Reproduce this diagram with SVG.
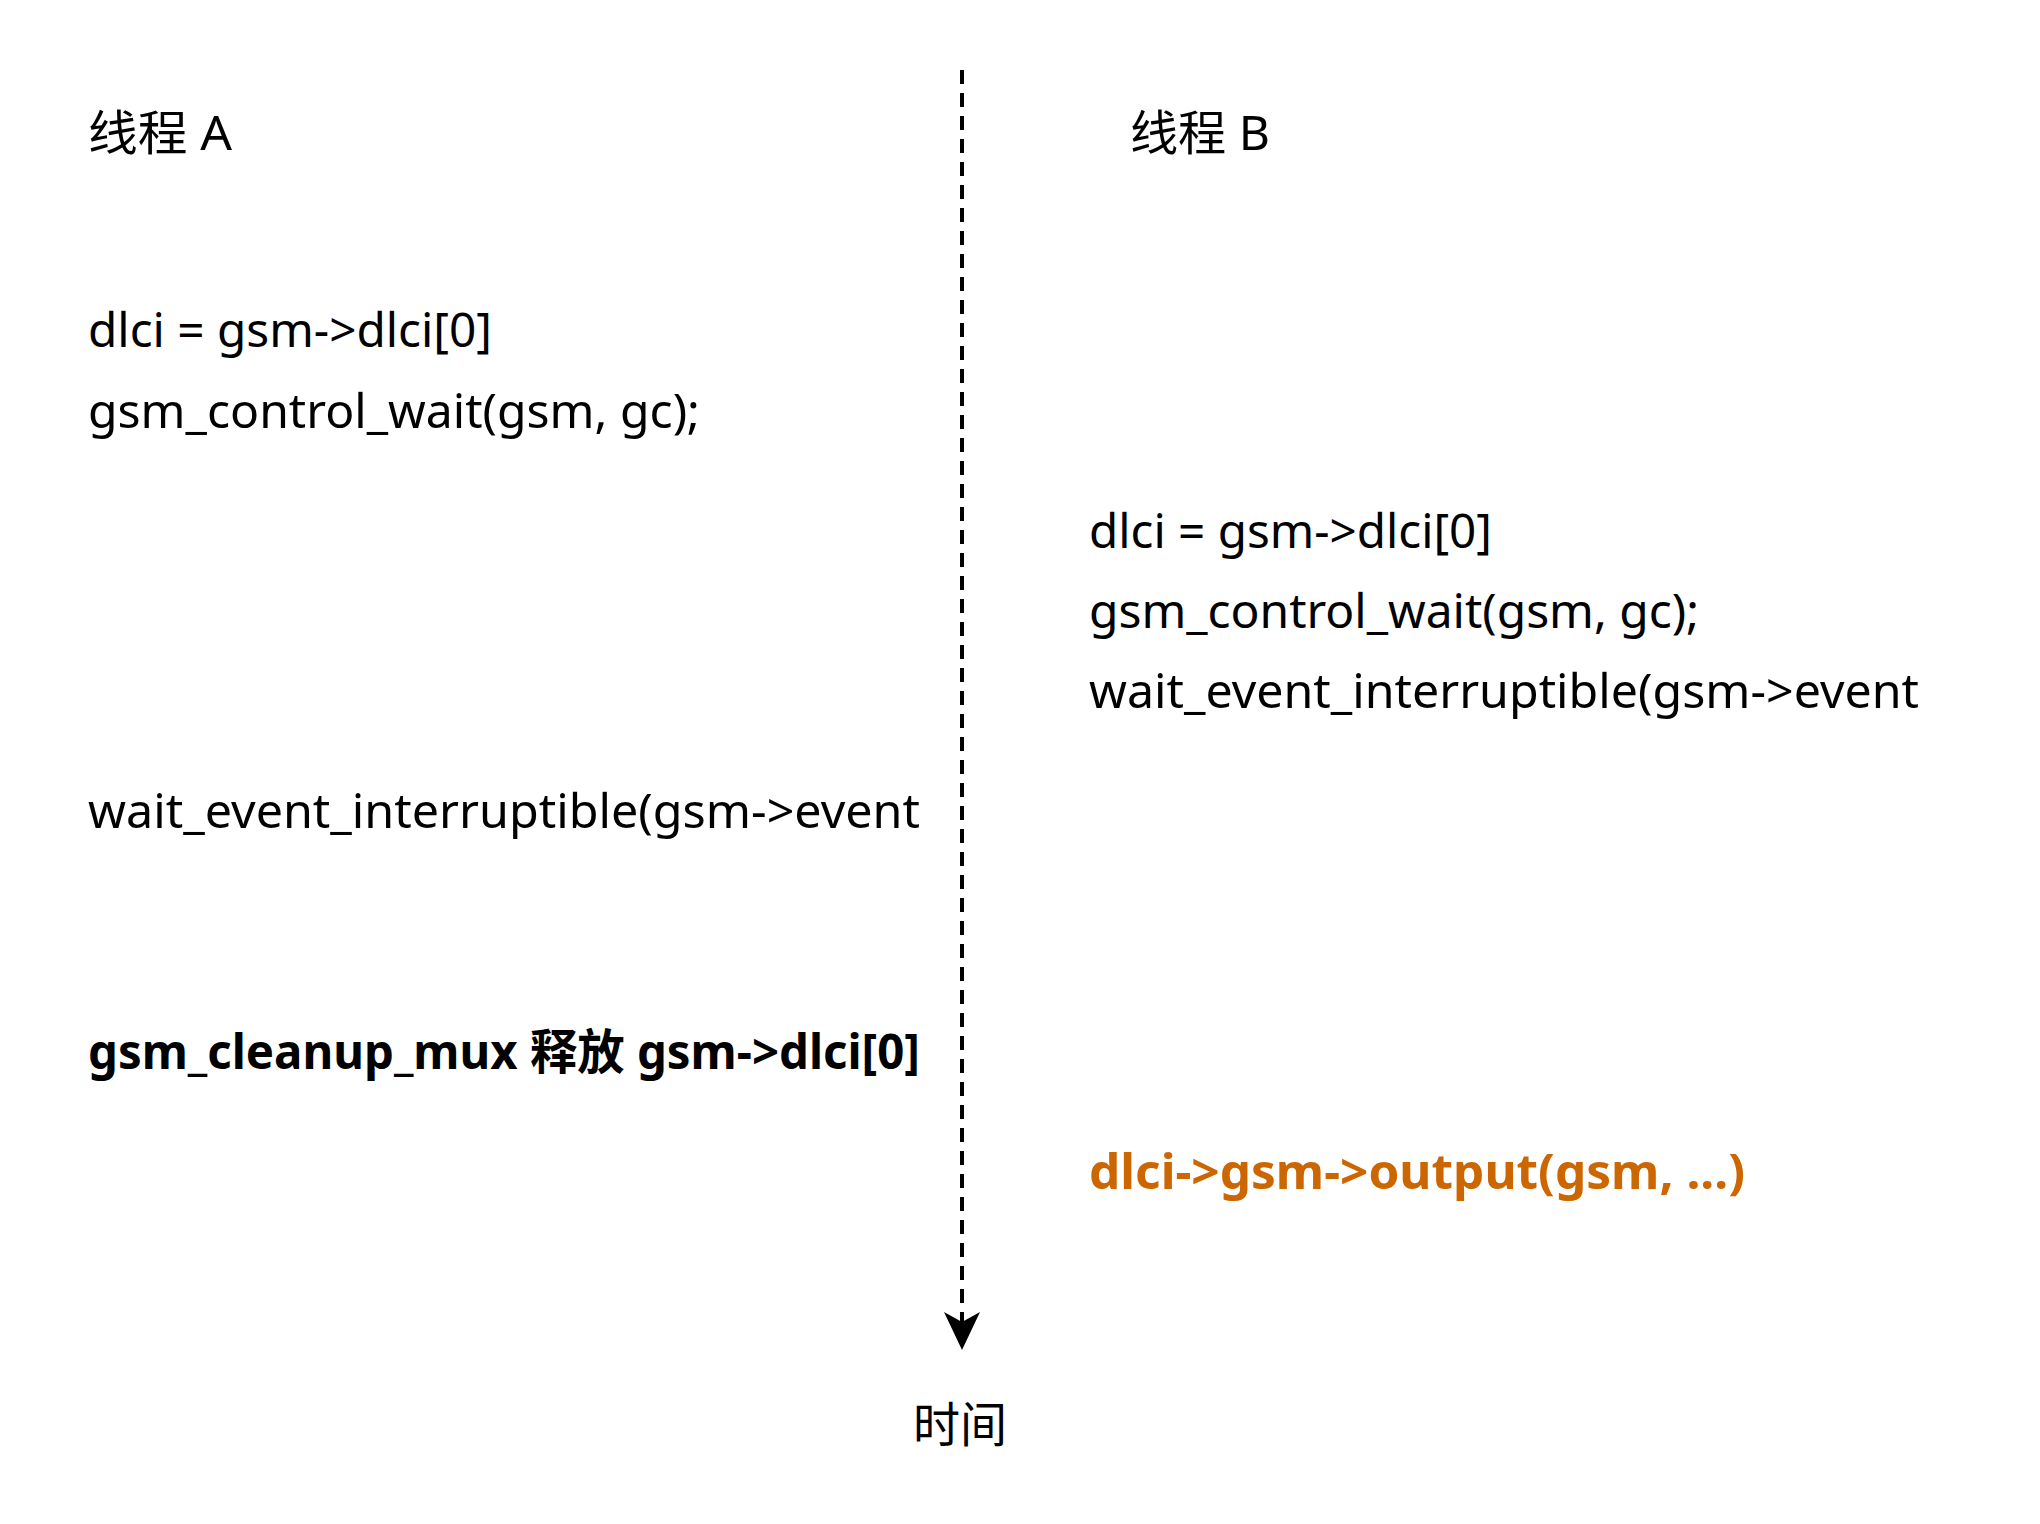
<svg xmlns="http://www.w3.org/2000/svg" width="2040" height="1524" viewBox="0 0 2040 1524">
<style>
text{font-family:"Noto Sans","Noto Sans CJK SC",sans-serif;font-size:48px;fill:#000}
.b{font-weight:bold}
.o{fill:#CC6600;font-weight:bold}
.conn{stroke:#000;stroke-width:4;fill:none;stroke-dasharray:14 9}
</style>
<rect width="2040" height="1524" fill="#fff"/>
<g id="connectors">
<line class="conn" x1="962" y1="70" x2="962" y2="1322"/>
<path d="M962,1350 L944,1312 L962,1322 L980,1312 Z" fill="#000"/>
</g>
<g id="threadA-title"><text x="88" y="150" textLength="144" lengthAdjust="spacingAndGlyphs">线程 A</text></g>
<g id="threadB-title"><text x="1130" y="150" textLength="140" lengthAdjust="spacingAndGlyphs">线程 B</text></g>
<g id="a-dlci"><text x="88" y="347" textLength="404" lengthAdjust="spacingAndGlyphs">dlci = gsm-&gt;dlci[0]</text></g>
<g id="a-control"><text x="88" y="428" textLength="612" lengthAdjust="spacingAndGlyphs">gsm_control_wait(gsm, gc);</text></g>
<g id="a-wait"><text x="88" y="828" textLength="832" lengthAdjust="spacingAndGlyphs">wait_event_interruptible(gsm-&gt;event</text></g>
<g id="a-cleanup"><text class="b" x="88" y="1069" textLength="832" lengthAdjust="spacingAndGlyphs">gsm_cleanup_mux 释放 gsm-&gt;dlci[0]</text></g>
<g id="b-dlci"><text x="1089" y="548" textLength="403" lengthAdjust="spacingAndGlyphs">dlci = gsm-&gt;dlci[0]</text></g>
<g id="b-control"><text x="1089" y="628" textLength="610" lengthAdjust="spacingAndGlyphs">gsm_control_wait(gsm, gc);</text></g>
<g id="b-wait"><text x="1089" y="708" textLength="830" lengthAdjust="spacingAndGlyphs">wait_event_interruptible(gsm-&gt;event</text></g>
<g id="b-output"><text class="o" x="1089" y="1189" textLength="656" lengthAdjust="spacingAndGlyphs">dlci-&gt;gsm-&gt;output(gsm, ...)</text></g>
<g id="time-label"><text x="913" y="1442" textLength="94" lengthAdjust="spacingAndGlyphs">时间</text></g>
</svg>
